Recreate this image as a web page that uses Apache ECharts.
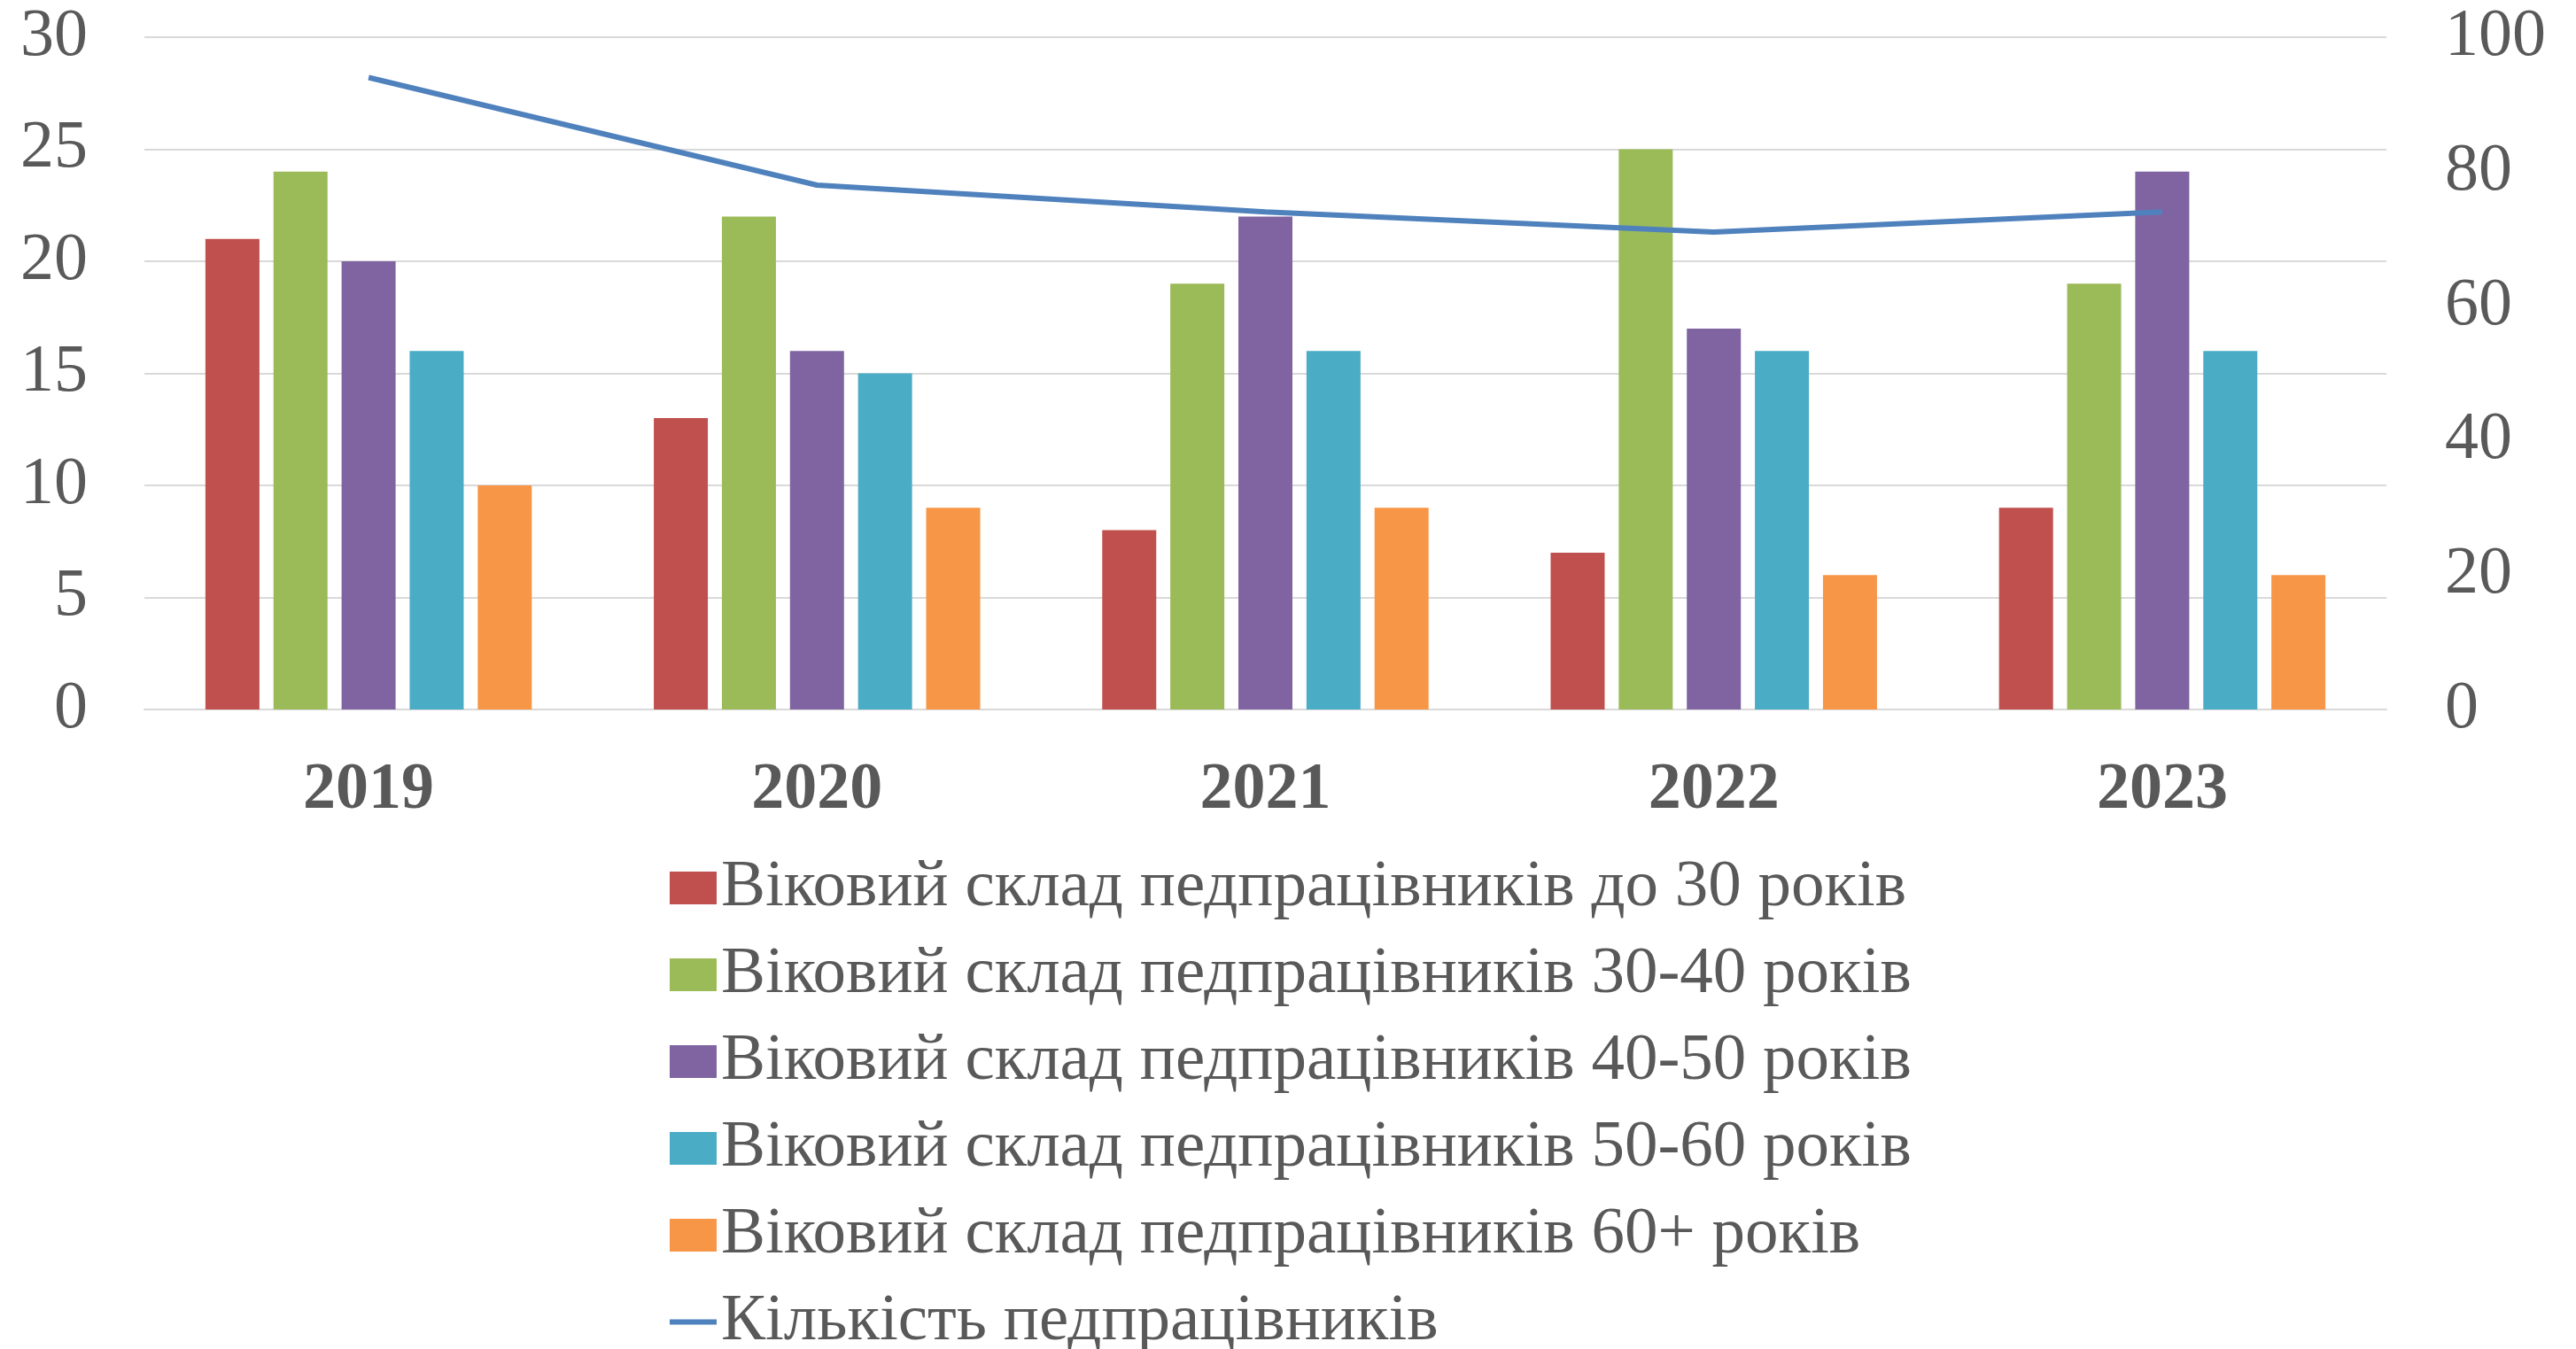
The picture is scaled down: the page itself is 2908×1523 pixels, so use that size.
<!DOCTYPE html>
<html>
<head>
<meta charset="utf-8">
<title>Віковий склад педпрацівників</title>
<script src="https://cdn.jsdelivr.net/npm/echarts@6/dist/echarts.min.js"></script>
<style>
    html, body { margin: 0; padding: 0; background: #fff; }
    #chart { width: 2908px; height: 1523px; }
</style>
</head>
<body>
<div id="chart"></div>
<script>
// Chart data
const years = ['2019', '2020', '2021', '2022', '2023'];
const ageUnder30 = [21, 13, 8, 7, 9];
const age30to40 = [24, 22, 19, 25, 19];
const age40to50 = [20, 16, 22, 17, 24];
const age50to60 = [16, 15, 16, 16, 16];
const age60plus = [10, 9, 9, 6, 6];
const totalStaff = [94, 78, 74, 71, 74];

const leftTicks = { min: 0, max: 30, interval: 5 };
const rightTicks = { min: 0, max: 100, interval: 20 };

const seriesNames = [
    'Віковий склад педпрацівників до 30 років',
    'Віковий склад педпрацівників 30-40 років',
    'Віковий склад педпрацівників 40-50 років',
    'Віковий склад педпрацівників 50-60 років',
    'Віковий склад педпрацівників 60+ років',
    'Кількість педпрацівників'
];
const colors = ['#C0504D', '#9BBB59', '#8064A2', '#4BACC6', '#F79646', '#4F81BD'];

const font = '"Liberation Serif", "Times New Roman", serif';
const textColor = '#595959';
const gridColor = '#D9D9D9';

// Build bar series
const barData = [ageUnder30, age30to40, age40to50, age50to60, age60plus];
const series = barData.map((values, i) => ({
    name: seriesNames[i],
    type: 'bar',
    yAxisIndex: 0,
    barWidth: 61,
    barGap: '26%',
    itemStyle: { color: colors[i] },
    data: values
}));

series.push({
    name: seriesNames[5],
    type: 'line',
    yAxisIndex: 1,
    symbol: 'none',
    lineStyle: { color: colors[5], width: 6 },
    itemStyle: { color: colors[5] },
    data: totalStaff
});

// Legend entries: squares for bars, plain line for the total
const legendData = seriesNames.map((name, i) => i < 5
    ? { name: name, icon: 'rect' }
    : {
        name: name,
        lineStyle: { width: 6 },
        itemStyle: { opacity: 0, color: 'rgba(0,0,0,0)', borderWidth: 0 }
    });

const chart = echarts.init(document.getElementById('chart'));

const option = {
    animation: false,
    textStyle: { fontFamily: font },
    grid: {
        left: 163,
        right: 214,
        top: 42,
        bottom: 722,
        containLabel: false
    },
    legend: {
        orient: 'vertical',
        left: 753,
        top: 965,
        height: 700,
        padding: 0,
        itemWidth: 53,
        itemHeight: 37,
        itemGap: 23,
        data: legendData,
        textStyle: {
            fontFamily: font,
            fontSize: 75,
            lineHeight: 72,
            color: textColor
        }
    },
    xAxis: {
        type: 'category',
        data: years,
        axisTick: { show: false },
        axisLine: { lineStyle: { color: gridColor, width: 2 } },
        axisLabel: {
            margin: 55,
            fontFamily: font,
            fontSize: 74,
            fontWeight: 'bold',
            color: textColor
        }
    },
    yAxis: [
        {
            type: 'value',
            min: leftTicks.min,
            max: leftTicks.max,
            interval: leftTicks.interval,
            axisLine: { show: false },
            axisTick: { show: false },
            splitLine: { lineStyle: { color: gridColor, width: 2 } },
            axisLabel: {
                margin: 64,
                fontFamily: font,
                fontSize: 76,
                color: textColor
            }
        },
        {
            type: 'value',
            min: rightTicks.min,
            max: rightTicks.max,
            interval: rightTicks.interval,
            position: 'right',
            axisLine: { show: false },
            axisTick: { show: false },
            splitLine: { show: false },
            axisLabel: {
                margin: 66,
                fontFamily: font,
                fontSize: 76,
                color: textColor
            }
        }
    ],
    series: series
};

chart.setOption(option);
window.addEventListener('resize', () => chart.resize());
</script>
</body>
</html>
